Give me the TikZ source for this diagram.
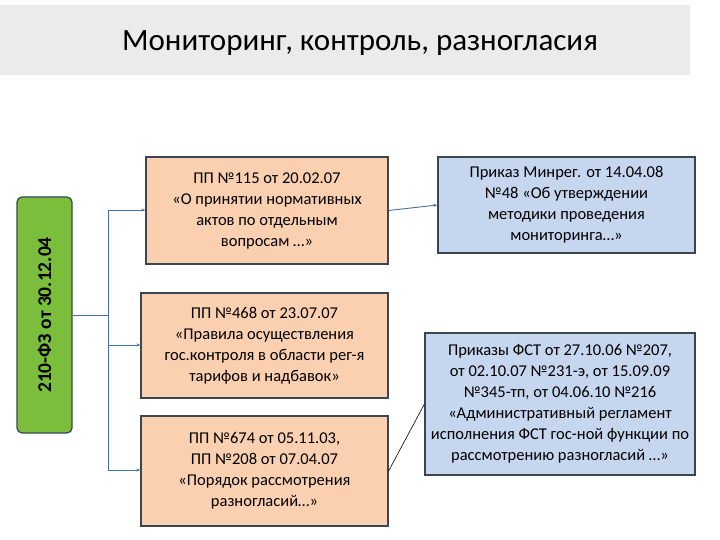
\documentclass[tikz,border=0pt]{standalone}
\usepackage{fontspec}
\setmainfont{Carlito}
\usetikzlibrary{arrows.meta}
\definecolor{org}{RGB}{250,208,176}
\definecolor{blu}{RGB}{198,214,238}
\definecolor{grn}{RGB}{122,190,60}
\definecolor{edg}{RGB}{60,70,80}
\definecolor{lnk}{RGB}{70,110,170}
\tikzset{
 obox/.style={draw=edg,line width=1.2pt,fill=org,align=center,font=\fontsize{16.5}{21}\selectfont,inner sep=2pt},
 bbox/.style={draw=edg,line width=1.2pt,fill=blu,align=center,font=\fontsize{16.5}{21}\selectfont,inner sep=2pt},
 link/.style={draw=lnk,line width=0.9pt},
 arr/.style={link,-{Stealth[length=4pt]}}
}
\begin{document}
\begin{tikzpicture}[x=1pt,y=-1pt]
\useasboundingbox (0,0) rectangle (720,540);
\fill[white] (0,0) rectangle (720,540);
\fill[black!8] (0,5) rectangle (690,75);
\node (title) at (360,43) {\fontsize{31}{36}\selectfont Мониторинг, контроль, разногласия};
\node[draw=edg,line width=1.2pt,fill=grn,rounded corners=5pt,minimum width=55pt,minimum height=236pt] (law) at (44.5,315) {};
\node[rotate=90,font=\bfseries\fontsize{19.5}{22}\selectfont] (lawt) at (law.center) {210-ФЗ от 30.12.04};
\node[obox,minimum width=242pt,minimum height=107pt] (a) at (267,210.5) {ПП №115 от 20.02.07\\«О принятии нормативных\\актов по отдельным\\вопросам …»};
\node[obox,minimum width=247pt,minimum height=105pt] (b) at (264.5,345.5) {ПП №468 от 23.07.07\\«Правила осуществления\\гос.контроля в области рег-я\\тарифов и надбавок»};
\node[obox,minimum width=247pt,minimum height=110pt] (c) at (264.5,471) {ПП №674 от 05.11.03,\\ПП №208 от 07.04.07\\«Порядок рассмотрения\\разногласий…»};
\node[bbox,minimum width=257pt,minimum height=96pt] (d) at (566.5,205) {Приказ Минрег. от 14.04.08\\№48 «Об утверждении\\методики проведения\\мониторинга…»};
\node[bbox,minimum width=270pt,minimum height=142pt] (e) at (560,404) {Приказы ФСТ от 27.10.06 №207,\\от 02.10.07 №231-э, от 15.09.09\\№345-тп, от 04.06.10 №216\\«Административный регламент\\исполнения ФСТ гос-ной функции по\\рассмотрению разногласий …»};
\coordinate (j) at (108,315);
\coordinate (jt) at (108,210);
\coordinate (jm) at (108,345);
\coordinate (jb) at (108,470);
\draw[link] (law.east|-j) -- (j);
\draw[link] (jt) -- (jb);
\draw[arr] (jt) -- (a.west|-jt);
\draw[arr] (jm) -- (b.west|-jm);
\draw[arr] (jb) -- (c.west|-jb);
\draw[arr] (a.east) -- (d.west);
\draw[line width=0.6pt] (c.east) -- (e.west);
\end{tikzpicture}
\end{document}
